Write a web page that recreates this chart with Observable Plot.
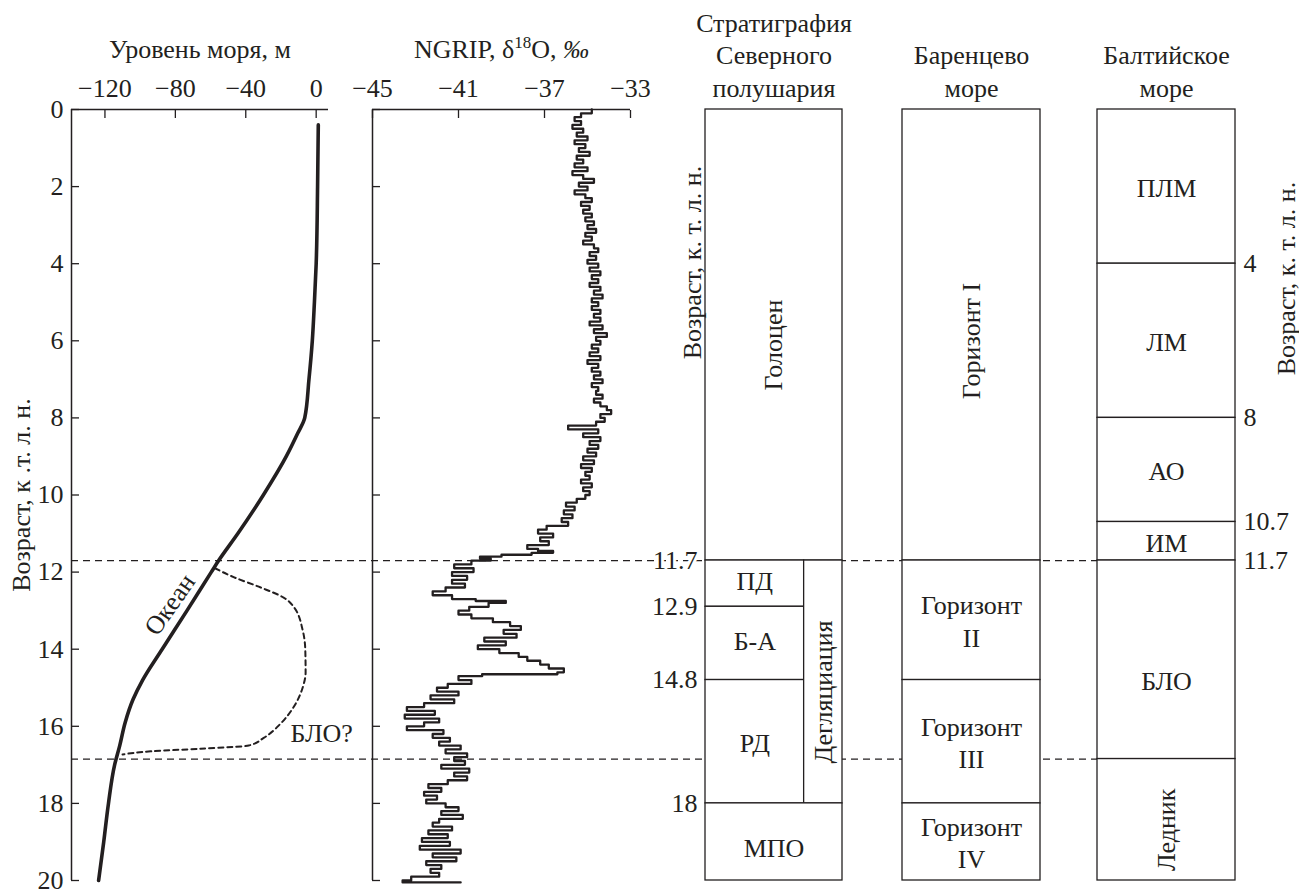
<!DOCTYPE html>
<html>
<head>
<meta charset="utf-8">
<script src="https://cdn.jsdelivr.net/npm/d3@7"></script>
<script src="https://cdn.jsdelivr.net/npm/@observablehq/plot@0.6"></script>
<style>
  body { margin: 0; background: #fff; }
  #chart { position: relative; width: 1299px; height: 894px; }
  #chart > svg { position: absolute; left: 0; top: 0; }
</style>
</head>
<body>
<div id="chart"></div>
<script>
// ---------------- DATA ----------------
const AGE_DOMAIN = [0, 20];
const AGE_TICKS = [0, 2, 4, 6, 8, 10, 12, 14, 16, 18, 20];
const SEA_DOMAIN = [-139, 7];
const SEA_TICKS = [-120, -80, -40, 0];
const NGRIP_DOMAIN = [-45, -33];
const NGRIP_TICKS = [-45, -41, -37, -33];

const SEA_TITLE = "Уровень моря, м";
const NGRIP_TITLE = "NGRIP, δ18O, ‰";
const AGE_TITLE_LEFT = "Возраст, к .т. л. н.";
const AGE_TITLE = "Возраст, к. т. л. н.";
const OCEAN_LABEL = "Океан";
const BLO_LABEL = "БЛО?";

// Ocean sea-level curve (age, k yr BP ; level, m)
const OCEAN_AGE   = [0.4, 2, 4, 5, 6, 7, 8, 8.4, 9, 10, 11, 11.7, 12, 13, 14, 14.8, 15.3, 15.9, 16.5, 17, 18, 19, 20];
const OCEAN_LEVEL = [1.2, 0.8, 0, -1, -2.2, -4.1, -6.5, -10.5, -17, -30, -44.5, -55.4, -59.6, -73.4, -87.5, -98.6, -104, -108.5, -111.6, -114.5, -118, -120.7, -123.6];

// Baltic Ice Lake (БЛО?) dashed curve
const BLO_AGE   = [11.9, 12.13, 12.4, 12.66, 12.9, 13.5, 14.0, 14.6, 15.0, 15.5, 15.93, 16.3, 16.5, 16.58, 16.65, 16.73];
const BLO_LEVEL = [-57.5, -46.9, -31.5, -18.5, -12.8, -7.7, -6.2, -6.0, -7.7, -12.8, -20.2, -29.8, -38.4, -65.6, -94, -110];

// NGRIP δ18O record
const NGRIP_AGE = [
  0.0,0.1,0.2,0.3,0.4,0.5,0.6,0.7,0.8,0.9,
  1.0,1.1,1.2,1.3,1.4,1.5,1.6,1.7,1.8,1.9,
  2.0,2.1,2.2,2.3,2.4,2.5,2.6,2.7,2.8,2.9,
  3.0,3.1,3.2,3.3,3.4,3.5,3.6,3.7,3.8,3.9,
  4.0,4.1,4.2,4.3,4.4,4.5,4.6,4.7,4.8,4.9,
  5.0,5.1,5.2,5.3,5.4,5.5,5.6,5.7,5.8,5.9,
  6.0,6.1,6.2,6.3,6.4,6.5,6.6,6.7,6.8,6.9,
  7.0,7.1,7.2,7.3,7.4,7.5,7.6,7.7,7.8,7.9,
  8.0,8.1,8.2,8.3,8.4,8.5,8.6,8.7,8.8,8.9,
  9.0,9.1,9.2,9.3,9.4,9.5,9.6,9.7,9.8,9.9,
  10.0,10.1,10.2,10.3,10.4,10.5,10.6,10.7,10.8,10.9,
  11.0,11.1,11.2,11.3,11.4,11.45,11.5,11.55,11.6,11.65,
  11.7,11.8,11.9,12.0,12.1,12.2,12.3,12.4,12.5,12.6,
  12.7,12.75,12.8,12.9,13.0,13.1,13.2,13.3,13.4,13.5,
  13.6,13.7,13.8,13.9,14.0,14.1,14.2,14.3,14.4,14.5,
  14.6,14.65,14.7,14.8,14.9,15.0,15.1,15.2,15.3,15.4,
  15.5,15.6,15.7,15.8,15.9,16.0,16.1,16.2,16.3,16.4,
  16.5,16.6,16.7,16.8,16.9,17.0,17.1,17.2,17.3,17.4,
  17.5,17.6,17.7,17.8,17.9,18.0,18.1,18.2,18.3,18.4,
  18.5,18.6,18.7,18.8,18.9,19.0,19.1,19.2,19.3,19.4,
  19.5,19.6,19.7,19.8,19.9,20.0,20.05
];
const NGRIP_D18O = [
  -34.8,-35.3,-35.6,-35.3,-35.7,-35.2,-35.5,-35.0,-35.6,-35.1,
  -35.4,-34.9,-35.5,-35.2,-35.6,-35.0,-35.7,-35.2,-34.7,-35.4,
  -35.0,-35.6,-35.1,-34.8,-35.3,-34.9,-35.2,-34.8,-35.1,-34.7,
  -35.0,-34.6,-35.1,-34.8,-35.2,-34.7,-34.5,-34.9,-34.6,-35.0,
  -34.5,-34.9,-34.4,-34.8,-34.5,-34.9,-34.4,-34.7,-34.3,-34.8,
  -34.5,-34.8,-34.4,-34.7,-34.4,-34.9,-34.3,-34.7,-34.1,-34.6,
  -34.4,-34.8,-34.5,-34.9,-34.4,-35.0,-34.5,-34.8,-34.4,-34.7,
  -34.3,-34.8,-34.5,-34.6,-34.3,-34.7,-34.4,-34.1,-33.9,-34.4,
  -34.2,-34.6,-35.9,-34.5,-35.2,-34.4,-34.9,-34.5,-35.0,-34.6,
  -35.2,-34.7,-35.3,-34.8,-35.1,-34.9,-35.3,-34.8,-35.2,-34.9,
  -35.1,-35.5,-36.0,-35.6,-36.1,-35.7,-36.2,-35.9,-36.9,-37.3,
  -36.6,-37.2,-36.8,-37.8,-37.3,-36.6,-37.6,-39.0,-40.0,-39.5,
  -40.4,-41.2,-40.3,-41.3,-40.6,-41.3,-40.7,-41.6,-42.2,-41.3,
  -40.2,-38.8,-39.6,-40.5,-41.0,-40.4,-39.4,-38.6,-38.1,-38.9,
  -38.3,-39.8,-38.8,-40.1,-39.1,-38.2,-37.8,-37.2,-36.8,-36.1,
  -36.4,-39.9,-41.0,-40.4,-41.5,-42.0,-41.0,-42.3,-41.2,-42.6,
  -43.4,-42.1,-43.5,-41.9,-42.6,-43.4,-41.7,-42.2,-41.4,-41.9,
  -40.9,-41.6,-40.6,-41.2,-40.7,-41.8,-40.5,-41.2,-40.6,-41.5,
  -42.4,-41.8,-42.6,-42.0,-42.5,-41.6,-41.0,-41.8,-40.8,-41.9,
  -42.2,-41.3,-42.4,-41.5,-42.7,-41.4,-42.8,-40.9,-42.2,-41.1,
  -42.5,-41.8,-42.3,-41.9,-43.2,-43.6,-40.9
];

const BOUNDARIES = [11.7, 16.85];

const STRAT_HEADER = "Стратиграфия\nСеверного\nполушария";
const BARENTS_HEADER = "Баренцево\nморе";
const BALTIC_HEADER = "Балтийское\nморе";

const STRAT_CELLS = [
  {name: "Голоцен", from: 0, to: 11.7, lane: "full"},
  {name: "ПД", from: 11.7, to: 12.9, lane: "main"},
  {name: "Б-А", from: 12.9, to: 14.8, lane: "main"},
  {name: "РД", from: 14.8, to: 18, lane: "main"},
  {name: "Дегляциация", from: 11.7, to: 18, lane: "side"},
  {name: "МПО", from: 18, to: 20, lane: "full"}
];
const BARENTS_CELLS = [
  {name: "Горизонт I", from: 0, to: 11.7, lane: "full"},
  {name: "Горизонт\nII", from: 11.7, to: 14.8, lane: "full"},
  {name: "Горизонт\nIII", from: 14.8, to: 18, lane: "full"},
  {name: "Горизонт\nIV", from: 18, to: 20, lane: "full"}
];
const BALTIC_CELLS = [
  {name: "ПЛМ", from: 0, to: 4, lane: "full"},
  {name: "ЛМ", from: 4, to: 8, lane: "full"},
  {name: "АО", from: 8, to: 10.7, lane: "full"},
  {name: "ИМ", from: 10.7, to: 11.7, lane: "full"},
  {name: "БЛО", from: 11.7, to: 16.85, lane: "full"},
  {name: "Ледник", from: 16.85, to: 20, lane: "full"}
];
const STRAT_TICKS = [11.7, 12.9, 14.8, 18];
const BALTIC_TICKS = [4, 8, 10.7, 11.7];

// ---------------- LAYOUT / STYLE ----------------
const INK = "#231f20";
const FONT = "'Liberation Serif', 'Times New Roman', serif";
const FS = 26;
const W = 1299, H = 894;
const LAYOUT = {top: 109, bottom: 880, sea: [71, 328], ngrip: [372, 630],
  strat: [705, 842], barents: [902, 1040], baltic: [1097, 1235]};
const LANE = {full: [0, 1], main: [0, 0.72], side: [0.72, 1]};
const VERTICAL = new Set(["Голоцен", "Дегляциация", "Горизонт I", "Ледник"]);
const NUDGE = {"Голоцен": 10, "Дегляциация": 10, "Горизонт I": 6, "БЛО": 20, "Ледник": 10, "ПД": -4, "Б-А": -4, "МПО": 5};
const minus = d => (d < 0 ? "\u2212" + Math.abs(d) : String(d));

function frameOpts(span, x) {
  return {
    width: W, height: H,
    marginTop: LAYOUT.top, marginBottom: H - LAYOUT.bottom,
    marginLeft: span[0], marginRight: W - span[1],
    x: {axis: null, ...x},
    y: {domain: AGE_DOMAIN, reverse: true, axis: null},
    style: {background: "none", fontFamily: FONT, fontSize: FS + "px", color: INK, overflow: "visible"}
  };
}

// ---------------- PLOTS ----------------
const ocean = OCEAN_AGE.map((a, i) => ({age: a, level: OCEAN_LEVEL[i]}));
const blo = BLO_AGE.map((a, i) => ({age: a, level: BLO_LEVEL[i]}));
const ngrip = NGRIP_AGE.map((a, i) => ({age: a, v: NGRIP_D18O[i]}));

const bg = Plot.plot({
  ...frameOpts([LAYOUT.sea[0], LAYOUT.baltic[0]], {domain: [0, 1]}),
  marks: [Plot.ruleY(BOUNDARIES, {stroke: INK, strokeWidth: 1.3, strokeDasharray: "7,5"})]
});

const sea = Plot.plot({
  ...frameOpts(LAYOUT.sea, {domain: SEA_DOMAIN}),
  marks: [
    Plot.ruleY([AGE_DOMAIN[0]], {stroke: INK, strokeWidth: 1.5}),
    Plot.ruleX([SEA_DOMAIN[0]], {stroke: INK, strokeWidth: 1.5}),
    Plot.axisX(SEA_TICKS, {anchor: "top", tickSize: -8, tickPadding: 21, tickFormat: minus, label: null, strokeWidth: 1.3}),
    Plot.axisY(AGE_TICKS, {anchor: "left", tickSize: -8, tickPadding: 16, label: null, strokeWidth: 1.3}),
    Plot.line(ocean, {x: "level", y: "age", curve: "monotone-y", stroke: INK, strokeWidth: 3.6}),
    Plot.line(blo, {x: "level", y: "age", curve: "monotone-y", stroke: INK, strokeWidth: 2, strokeDasharray: "5,4"}),
    Plot.text(ocean.filter(d => d.age === 13), {x: "level", y: "age", text: () => OCEAN_LABEL, rotate: -55, dx: -17, dy: -6}),
    Plot.text(blo.filter(d => d.age === 15.93), {x: "level", y: "age", text: () => BLO_LABEL, textAnchor: "start", dx: 10, dy: 10}),
    Plot.text([SEA_TITLE], {text: d => d, frameAnchor: "top", lineAnchor: "bottom", dy: -52}),
    Plot.text([AGE_TITLE_LEFT], {text: d => d, frameAnchor: "left", textAnchor: "middle", rotate: -90, dx: -50})
  ]
});

const ng = Plot.plot({
  ...frameOpts(LAYOUT.ngrip, {domain: NGRIP_DOMAIN}),
  marks: [
    Plot.ruleY([AGE_DOMAIN[0]], {stroke: INK, strokeWidth: 1.5}),
    Plot.ruleX([NGRIP_DOMAIN[0]], {stroke: INK, strokeWidth: 1.5}),
    Plot.axisX(NGRIP_TICKS, {anchor: "top", tickSize: -8, tickPadding: 21, tickFormat: minus, label: null, strokeWidth: 1.3}),
    Plot.axisY(AGE_TICKS, {anchor: "left", tickSize: -8, tickPadding: 16, tickFormat: () => "", label: null, strokeWidth: 1.3}),
    Plot.line(ngrip, {x: "v", y: "age", curve: "step-before", stroke: INK, strokeWidth: 2.3}),
    Plot.text([NGRIP_TITLE], {text: d => d, frameAnchor: "top", lineAnchor: "bottom", dy: -52})
  ]
});
// superscript 18 and italic per-mille
d3.select(ng).selectAll("text").filter(function () { return this.textContent === NGRIP_TITLE; })
  .each(function () {
    const t = d3.select(this);
    t.text(null);
    t.append("tspan").text("NGRIP, δ");
    t.append("tspan").attr("dy", -10).attr("font-size", "17px").text("18");
    t.append("tspan").attr("dy", 10).text("O, ");
    t.append("tspan").attr("font-style", "italic").text("‰");
  });

function columnPlot(span, cells, header, extra) {
  const horiz = cells.filter(d => !VERTICAL.has(d.name));
  const vert = cells.filter(d => VERTICAL.has(d.name));
  const cx = d => (LANE[d.lane][0] + LANE[d.lane][1]) / 2;
  const cy = d => (d.from + d.to) / 2;
  const nudge = d => NUDGE[d.name] || 0;
  return Plot.plot({
    ...frameOpts(span, {domain: [0, 1]}),
    marks: [
      Plot.rect(cells, {x1: d => LANE[d.lane][0], x2: d => LANE[d.lane][1], y1: "from", y2: "to",
        fill: "white", stroke: INK, strokeWidth: 1.3}),
      ...horiz.map(d => Plot.text([d], {x: cx, y: cy, text: "name", lineHeight: 1.24, dy: nudge(d)})),
      ...vert.map(d => Plot.text([d], {x: cx, y: cy, text: "name", rotate: -90, dy: nudge(d)})),
      Plot.text([header], {text: d => d, frameAnchor: "top", lineAnchor: "bottom", dy: -13, lineHeight: 1.25}),
      ...extra
    ]
  });
}

const strat = columnPlot(LAYOUT.strat, STRAT_CELLS, STRAT_HEADER, [
  Plot.text(STRAT_TICKS, {y: d => d, text: d => String(d), frameAnchor: "left", textAnchor: "end", dx: -8,
    fill: INK, stroke: "white", strokeWidth: 6, paintOrder: "stroke"}),
  Plot.text([AGE_TITLE], {text: d => d, frameAnchor: "top-left", textAnchor: "middle", rotate: -90, dx: -23, dy: 153})
]);
const barents = columnPlot(LAYOUT.barents, BARENTS_CELLS, BARENTS_HEADER, []);
const baltic = columnPlot(LAYOUT.baltic, BALTIC_CELLS, BALTIC_HEADER, [
  Plot.text(BALTIC_TICKS, {y: d => d, text: d => String(d), frameAnchor: "right", textAnchor: "start", dx: 8}),
  Plot.text([AGE_TITLE], {text: d => d, frameAnchor: "top-right", textAnchor: "middle", rotate: -90, dx: 41, dy: 169})
]);

const root = document.getElementById("chart");
[bg, sea, ng, strat, barents, baltic].forEach(svg => root.append(svg));
</script>
</body>
</html>
